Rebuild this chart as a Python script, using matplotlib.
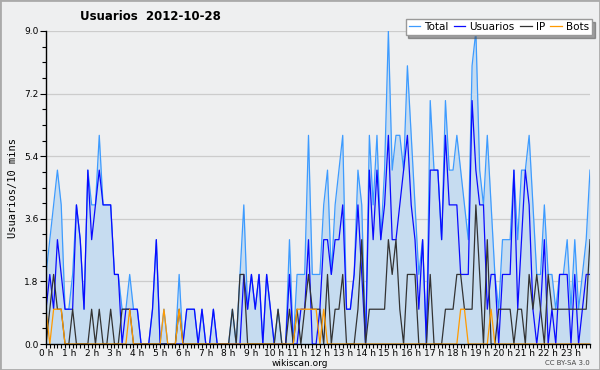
import matplotlib
matplotlib.use("Agg")
import matplotlib.pyplot as plt
import numpy as np

# valores cada 10 minutos (144 puntos)
total = [2,3,4,5,4,1, 1,2,4,3,1,5, 4,4,6,4,4,4, 2,2,1,1,2,1,
         1,0,0,0,1,3, 0,1,0,0,0,2, 0,1,1,1,0,1, 0,0,1,0,0,0,
         0,1,0,2,4,1, 2,1,2,0,2,1, 0,1,0,0,3,0, 2,2,2,6,2,2,
         2,4,5,2,4,5, 6,1,1,2,5,4, 0,6,4,6,3,5, 9,5,6,6,5,8,
         6,4,2,3,0,7, 5,5,3,7,5,5, 6,5,4,3,8,9, 5,4,6,4,2,1,
         3,3,3,5,3,5, 5,6,4,2,2,4, 2,2,1,2,2,3, 1,3,1,2,3,5]
usuarios = [1,2,1,3,2,1, 1,1,4,3,1,5, 3,4,5,4,4,4, 2,2,0,1,1,1,
            1,0,0,0,1,3, 0,0,0,0,0,0, 0,1,1,1,0,1, 0,0,1,0,0,0,
            0,0,0,0,2,1, 2,1,2,0,2,1, 0,0,0,0,2,0, 0,1,1,3,0,0,
            1,3,3,2,3,3, 4,1,1,2,4,2, 0,5,3,5,3,4, 6,3,3,4,5,6,
            4,3,1,3,0,5, 5,5,3,6,4,4, 4,2,2,2,7,5, 4,4,1,2,2,0,
            2,2,2,5,1,3, 5,4,1,0,1,3, 0,1,0,2,2,2, 0,2,0,1,2,2]
ip = [0,1,2,1,1,0, 0,1,0,0,0,0, 1,0,1,0,0,1, 0,0,1,1,1,0,
      0,0,0,0,0,0, 0,0,0,0,0,1, 0,0,0,0,0,0, 0,0,0,0,0,0,
      0,1,0,2,2,0, 0,0,0,0,0,0, 0,1,0,0,1,0, 1,0,1,2,1,1,
      1,0,2,0,1,1, 2,0,0,0,1,3, 0,1,1,1,1,1, 3,2,3,1,0,2,
      2,2,0,0,0,2, 0,0,0,1,1,1, 2,2,1,1,1,4, 2,0,3,0,0,1,
      1,1,1,0,1,1, 0,2,1,2,1,0, 2,1,1,1,1,1, 1,1,1,1,1,3]
bots = [1,0,1,1,1,0, 0,0,0,0,0,0, 0,0,0,0,0,0, 0,0,0,0,1,0,
        0,0,0,0,0,0, 0,1,0,0,0,1, 0,0,0,0,0,0, 0,0,0,0,0,0,
        0,0,0,0,0,0, 0,0,0,0,0,0, 0,0,0,0,0,0, 1,1,1,1,1,1,
        0,1,0,0,0,0, 0,0,0,0,0,0, 0,0,0,0,0,0, 0,0,0,0,0,0,
        0,0,0,0,0,0, 0,0,0,0,0,0, 0,1,1,0,0,0, 0,0,0,1,0,0,
        0,0,0,0,0,0, 0,0,0,0,0,0, 0,0,0,0,0,0, 0,0,0,0,0,0]
hour_labels = ["%d h" % h for h in range(24)]
y_ticks = [0.0, 1.8, 3.6, 5.4, 7.2, 9.0]

bg = "#eeeff0"
x = np.arange(len(total))

fig = plt.figure(figsize=(6, 3.7), dpi=100, facecolor=bg)
fig.patches.append(plt.Rectangle((0, 0), 1, 1, transform=fig.transFigure,
                                 fill=False, edgecolor="#aaaaaa", lw=2))
ax = fig.add_axes([46/600, 1-344/370, 544/600, 313/370], facecolor=bg)

ax.fill_between(x, total, 0, color="#c6dcf0", lw=0)
ax.plot(x, total, color="#3d9bff", lw=0.9, label="Total")
ax.plot(x, usuarios, color="#0a0aff", lw=0.9, label="Usuarios")
ax.plot(x, ip, color="#333333", lw=0.9, label="IP")
ax.plot(x, bots, color="#ff9a00", lw=0.9, label="Bots")

ax.set_xlim(0, 143)
ax.set_ylim(0, 9)
ax.set_yticks(y_ticks)
ax.set_yticklabels(["%.1f" % v for v in y_ticks])
ax.set_yticks(np.arange(0, 9.01, 0.45), minor=True)
ax.set_xticks(np.arange(0, 144, 6))
ax.set_xticklabels(hour_labels)
ax.set_xticks(np.arange(0, 144, 1), minor=True)
ax.tick_params(axis="y", which="major", labelsize=6.5, length=4, width=0.8,
               direction="out", pad=1.5)
ax.tick_params(axis="y", which="minor", length=3, width=0.8, direction="out")
ax.tick_params(axis="x", which="major", labelsize=6.5, length=3, width=0.8,
               direction="out", pad=0.5)
ax.tick_params(axis="x", which="minor", length=3, width=0.8, direction="out")
ax.grid(axis="y", color="#cccccc", lw=0.9)
ax.set_axisbelow(True)
for s in ["top", "right"]:
    ax.spines[s].set_visible(False)
for s in ["left", "bottom"]:
    ax.spines[s].set_linewidth(1)

ax.set_ylabel("Usuarios/10 mins", family="DejaVu Sans Mono", fontsize=7.5, labelpad=4)
fig.text(150/600, 1-17/370, "Usuarios  2012-10-28", ha="center", va="center",
         fontsize=8.5, fontweight="bold")
fig.text(300/600, 1-363/370, "wikiscan.org", ha="center", va="center", fontsize=6.5)
fig.text(590/600, 1-363/370, "CC BY-SA 3.0", ha="right", va="center", fontsize=5,
         color="#444444")

leg = fig.legend(loc="upper right", bbox_to_anchor=(592/600, 1-19/370), ncol=4,
                 fontsize=7.5, frameon=True, fancybox=False, shadow=True,
                 handlelength=1.1, handletextpad=0.4, columnspacing=0.5,
                 borderpad=0.3, borderaxespad=0)
leg.get_frame().set_edgecolor("#999999")
leg.get_frame().set_linewidth(1)

fig.savefig("out.png", dpi=100, facecolor=bg)
